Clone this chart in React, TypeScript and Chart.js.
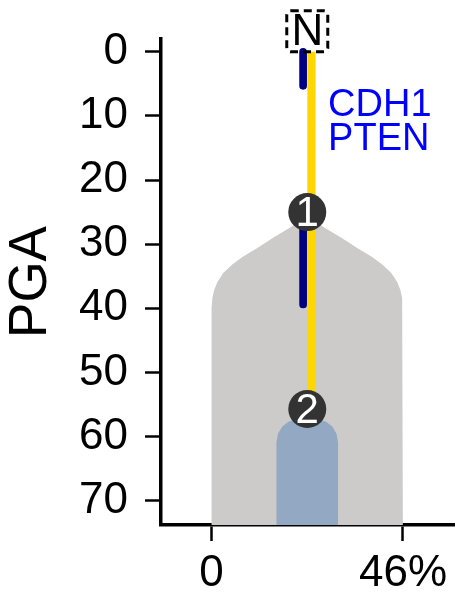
import React, { useEffect, useRef } from 'react';
import { Chart, registerables } from 'chart.js';

Chart.register(...registerables);

// ---- data ----
const yTicks = [0, 10, 20, 30, 40, 50, 60, 70];
const xTicks = [0, 46];
const xTickLabels = ['0', '46%'];
const yTitle = 'PGA';

// grey violin: PGA positions and half widths (in %) around the centre
const shapeCenter = 23;
const grayPGA = [25.7, 27.5, 29, 30.6, 32, 33.2, 34.5, 35.9, 37.2, 38.4, 40, 42, 80];
const grayHalfWidth = [0, 4.4, 8.2, 12, 15.6, 18.1, 20.2, 21.6, 22.4, 22.8, 23, 23, 23];

// blue clone shape
const bluePGA = [57.4, 57.67, 58.43, 59.56, 60.9, 80];
const blueHalfWidth = [2.6, 4.44, 6.0, 7.03, 7.4, 7.4];

// trunk (yellow) line
const yellowX = 24;
const yellowPGA = [0, 55.7];

// navy mutation segments
const navyX = 22;
const navySegA = [0, 5.3];
const navySegB = [25, 39.4];

// numbered events
const eventLabels = ['1', '2'];
const eventX = [23, 23];
const eventPGA = [25, 55.7];

// gene labels
const geneLabels = ['CDH1', 'PTEN'];
const geneX = 28;
const genePGA = [8.4, 13.7];

// top marker
const topMarker = 'N';
const topMarkerX = 23;
const topMarkerPGA = 0;

const FONT = '"Liberation Sans", Arial, Helvetica, sans-serif';

function polygon(pga: number[], hw: number[]) {
  const pts: { x: number; y: number }[] = [];
  for (let i = pga.length - 1; i >= 0; i--) pts.push({ x: shapeCenter - hw[i], y: pga[i] });
  for (let i = 0; i < pga.length; i++) pts.push({ x: shapeCenter + hw[i], y: pga[i] });
  return pts;
}

const annotationPlugin = {
  id: 'annotations',
  afterDatasetsDraw(chart: any) {
    const ctx = chart.ctx;
    const xs = chart.scales.x;
    const ys = chart.scales.y;
    // circle numbers
    const meta = chart.getDatasetMeta(5);
    ctx.save();
    ctx.fillStyle = '#ffffff';
    ctx.font = `42px ${FONT}`;
    ctx.textAlign = 'center';
    ctx.textBaseline = 'middle';
    meta.data.forEach((el: any, i: number) => {
      ctx.fillText(eventLabels[i], el.x, el.y + 2);
    });
    // gene labels
    ctx.fillStyle = '#0000ff';
    ctx.font = `38px ${FONT}`;
    ctx.textAlign = 'left';
    geneLabels.forEach((g, i) => {
      ctx.fillText(g, xs.getPixelForValue(geneX), ys.getPixelForValue(genePGA[i]));
    });
    // top marker box
    const cx = xs.getPixelForValue(topMarkerX);
    const bottom = ys.getPixelForValue(topMarkerPGA);
    const s = 41;
    ctx.setLineDash([8, 5]);
    ctx.lineWidth = 3;
    ctx.strokeStyle = '#000';
    ctx.beginPath();
    (ctx as any).roundRect(cx - s / 2, bottom - s, s, s, 4);
    ctx.stroke();
    ctx.setLineDash([]);
    ctx.fillStyle = '#000';
    ctx.font = `44px ${FONT}`;
    ctx.textAlign = 'center';
    ctx.fillText(topMarker, cx, bottom - s / 2 + 2);
    ctx.restore();
  },
};

export default function App() {
  const ref = useRef<HTMLCanvasElement | null>(null);
  useEffect(() => {
    if (!ref.current) return;
    const chart = new Chart(ref.current, {
      type: 'scatter',
      data: {
        datasets: [
          {
            data: polygon(grayPGA, grayHalfWidth),
            showLine: true,
            fill: 'shape',
            backgroundColor: '#cccbca',
            borderWidth: 0,
            pointRadius: 0,
            order: 6,
          } as any,
          {
            data: polygon(bluePGA, blueHalfWidth),
            showLine: true,
            fill: 'shape',
            backgroundColor: '#92a8c3',
            borderWidth: 0,
            pointRadius: 0,
            order: 5,
          },
          {
            data: navySegA.map((p) => ({ x: navyX, y: p })),
            showLine: true,
            borderColor: '#000080',
            borderWidth: 7.7,
            borderCapStyle: 'round',
            pointRadius: 0,
            order: 4,
          },
          {
            data: navySegB.map((p) => ({ x: navyX, y: p })),
            showLine: true,
            borderColor: '#000080',
            borderWidth: 7.7,
            borderCapStyle: 'round',
            pointRadius: 0,
            order: 3,
          },
          {
            data: yellowPGA.map((p) => ({ x: yellowX, y: p })),
            showLine: true,
            borderColor: '#ffd700',
            borderWidth: 8.3,
            borderCapStyle: 'butt',
            pointRadius: 0,
            order: 2,
          },
          {
            data: eventPGA.map((p, i) => ({ x: eventX[i], y: p })),
            showLine: false,
            pointRadius: 19,
            pointBackgroundColor: '#333333',
            pointBorderWidth: 0,
            order: 1,
          },
        ],
      },
      options: {
        animation: false,
        responsive: false,
        devicePixelRatio: 1,
        events: [],
        layout: { autoPadding: false, padding: { top: 39, right: 0, left: 0, bottom: 0 } },
        plugins: { legend: { display: false }, tooltip: { enabled: false } },
        scales: {
          x: {
            type: 'linear',
            min: -12.15,
            max: 58.5,
            afterBuildTicks: (s: any) => {
              s.ticks = xTicks.map((v) => ({ value: v }));
            },
            afterFit: (s: any) => {
              s.height = 69;
              s.paddingLeft = 0;
              s.paddingRight = 0;
            },
            grid: { drawOnChartArea: false, drawTicks: true, tickLength: 16, tickWidth: 2.5, tickColor: '#000' },
            border: { display: true, color: '#000', width: 3.5 },
            ticks: {
              color: '#000',
              font: { family: FONT, size: 44 },
              padding: 6,
              maxRotation: 0,
              autoSkip: false,
              callback: (_v: any, i: number) => xTickLabels[i],
            },
          },
          y: {
            type: 'linear',
            reverse: true,
            min: -2,
            max: 73.8,
            afterBuildTicks: (s: any) => {
              s.ticks = yTicks.map((v) => ({ value: v }));
            },
            afterFit: (s: any) => {
              s.width = 161;
              s.paddingTop = 0;
              s.paddingBottom = 0;
            },
            grid: { drawOnChartArea: false, drawTicks: true, tickLength: 16, tickWidth: 2.5, tickColor: '#000' },
            border: { display: true, color: '#000', width: 3.5 },
            ticks: {
              color: '#000',
              font: { family: FONT, size: 44 },
              padding: 17,
              autoSkip: false,
              callback: (v: any) => String(v),
            },
            title: {
              display: true,
              text: yTitle,
              color: '#000',
              font: { family: FONT, size: 53 },
              padding: 0,
            },
          },
        },
      } as any,
      plugins: [annotationPlugin],
    });
    return () => chart.destroy();
  }, []);
  return (
    <div style={{ position: 'fixed', left: 0, top: 0, width: 455, height: 594, background: '#fff' }}>
      <canvas ref={ref} width={455} height={594} style={{ display: 'block' }} />
    </div>
  );
}
